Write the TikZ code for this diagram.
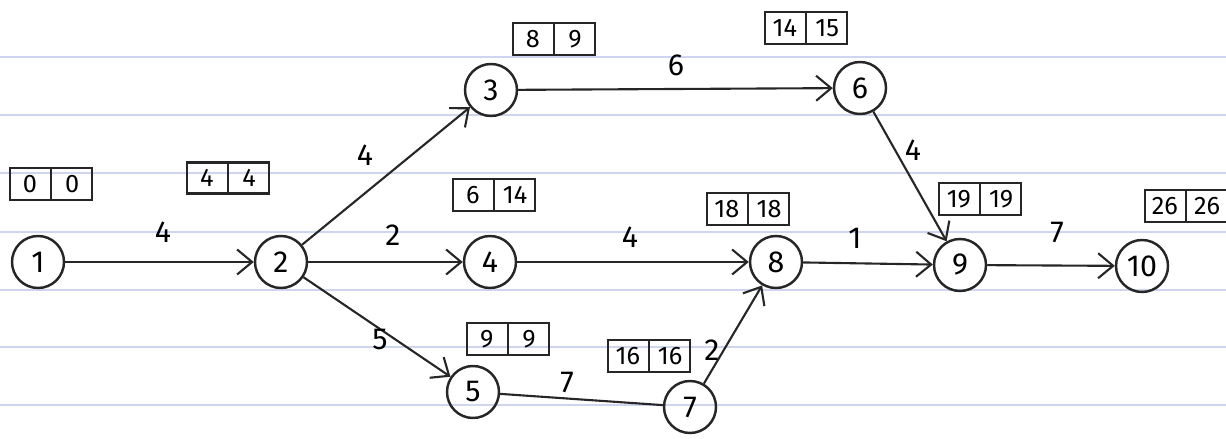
\documentclass[tikz,border=0pt]{standalone}
\usepackage{fontspec}
\setmainfont{Fira Sans}
\usetikzlibrary{arrows.meta,shapes.multipart}

\tikzstyle{event} = [circle, draw=black!85, line width=1.4pt, minimum size=1.04cm, inner sep=0pt, font=\LARGE]
\tikzstyle{timebox} = [rectangle split, rectangle split horizontal, rectangle split parts=2, draw=black!85, line width=1.4pt, text width=0.55cm, align=center, inner xsep=3.5pt, inner ysep=4pt, font=\Large]
\tikzstyle{flow} = [-{Straight Barb[length=3mm,width=5mm]}, line width=1.2pt, draw=black!85]
\tikzstyle{lineflow} = [-, line width=1.2pt, draw=black!85]
\tikzstyle{weight} = [font=\LARGE]
\tikzstyle{ruled} = [draw=cyan!35!blue!18, line width=0.6pt]

\begin{document}
\begin{tikzpicture}
    \useasboundingbox (0,0) rectangle (24.52,8.78);
    % notebook lines
    \foreach \y in {0.68,1.84,2.98,4.14,5.32,6.48,7.64}
        \draw[ruled] (0,\y) -- (24.52,\y);

    \node (n1) [event] at (0.76,3.54) {1};
    \node (n2) [event] at (5.62,3.54) {2};
    \node (n3) [event] at (9.82,6.98) {3};
    \node (n4) [event] at (9.80,3.54) {4};
    \node (n5) [event] at (9.46,0.94) {5};
    \node (n6) [event] at (17.20,7.02) {6};
    \node (n7) [event] at (13.80,0.64) {7};
    \node (n8) [event] at (15.52,3.54) {8};
    \node (n9) [event] at (19.20,3.48) {9};
    \node (n10) [event] at (22.84,3.46) {10};

    \node (t1) [timebox] at (1.02,5.10) {0\nodepart{two}0};
    \node (t2) [timebox] at (4.56,5.22) {4\nodepart{two}4};
    \node (t3) [timebox] at (11.08,8.00) {8\nodepart{two}9};
    \node (t6) [timebox] at (16.12,8.22) {14\nodepart{two}15};
    \node (t4) [timebox] at (9.88,4.88) {6\nodepart{two}14};
    \node (t8) [timebox] at (14.96,4.60) {18\nodepart{two}18};
    \node (t9) [timebox] at (19.60,4.80) {19\nodepart{two}19};
    \node (t10) [timebox] at (23.72,4.66) {26\nodepart{two}26};
    \node (t5) [timebox] at (10.16,2.00) {9\nodepart{two}9};
    \node (t7) [timebox] at (12.98,1.66) {16\nodepart{two}16};

    \draw [flow] (n1) -- (n2);
    \draw [flow] (n2) -- (n3);
    \draw [flow] (n2) -- (n4);
    \draw [flow] (n2) -- (n5);
    \draw [flow] (n3) -- (n6);
    \draw [flow] (n4) -- (n8);
    \draw [lineflow] (n5) -- (n7);
    \draw [flow] (n7) -- (n8);
    \draw [flow] (n6) -- (n9);
    \draw [flow] (n8) -- (n9);
    \draw [flow] (n9) -- (n10);

    \node (w12) [weight] at (3.26,4.14) {4};
    \node (w23) [weight] at (7.30,5.68) {4};
    \node (w24) [weight] at (7.86,4.08) {2};
    \node (w25) [weight] at (7.60,1.98) {5};
    \node (w36) [weight] at (13.52,7.48) {6};
    \node (w48) [weight] at (12.60,4.04) {4};
    \node (w69) [weight] at (18.26,5.78) {4};
    \node (w89) [weight] at (17.10,4.02) {1};
    \node (w910) [weight] at (21.14,4.14) {7};
    \node (w57) [weight] at (11.34,1.14) {7};
    \node (w78) [weight] at (14.24,1.78) {2};
\end{tikzpicture}
\end{document}
